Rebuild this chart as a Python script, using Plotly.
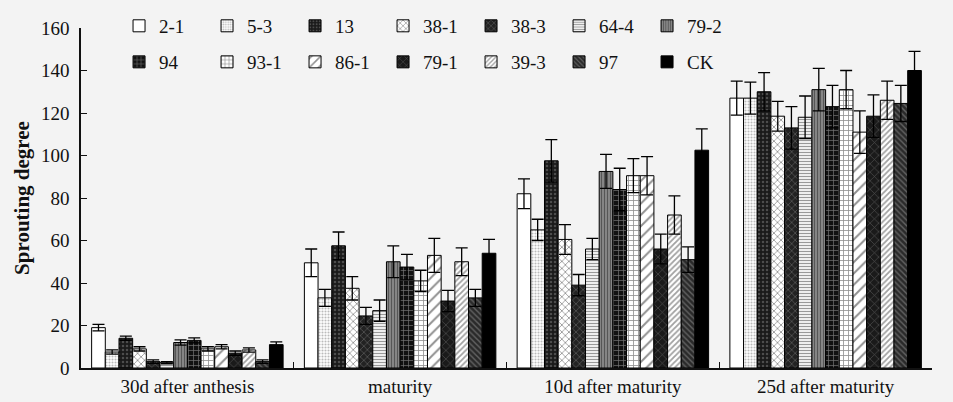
import plotly.graph_objects as go

categories = ["30d after anthesis", "maturity", "10d after maturity", "25d after maturity"]
series_names = ["2-1", "5-3", "13", "38-1", "38-3", "64-4", "79-2",
                "94", "93-1", "86-1", "79-1", "39-3", "97", "CK"]

v_2_1 = [19, 49.5, 82, 127]
v_5_3 = [7.5, 33, 65, 127]
v_13 = [14, 57.5, 97.5, 130]
v_38_1 = [9, 37.5, 60.5, 118.5]
v_38_3 = [3, 24.5, 39, 113]
v_64_4 = [2.5, 27, 56, 118]
v_79_2 = [12, 50, 92.5, 131]
v_94 = [13, 47.5, 84, 123]
v_93_1 = [9, 41, 90.5, 131]
v_86_1 = [10, 53, 90.5, 111]
v_79_1 = [7, 31.5, 56, 118.5]
v_39_3 = [8.5, 50, 72, 126]
v_97 = [3, 33, 51, 124.5]
v_CK = [11, 54, 102.5, 140]

e_2_1 = [1.5, 6.5, 7, 8]
e_5_3 = [1, 4, 5, 7.5]
e_13 = [1, 6.5, 10, 9]
e_38_1 = [1, 5.5, 7, 7]
e_38_3 = [0.8, 4, 5, 10]
e_64_4 = [0.5, 5, 5, 10]
e_79_2 = [1.2, 7.5, 8, 10]
e_94 = [1.2, 6, 10, 10]
e_93_1 = [1, 5, 8, 9]
e_86_1 = [1, 8, 9, 10]
e_79_1 = [1, 5, 7, 10]
e_39_3 = [1, 6.5, 9, 9]
e_97 = [0.8, 4, 6, 8.5]
e_CK = [1.3, 6.5, 10, 9]

values = [v_2_1, v_5_3, v_13, v_38_1, v_38_3, v_64_4, v_79_2,
          v_94, v_93_1, v_86_1, v_79_1, v_39_3, v_97, v_CK]
errors = [e_2_1, e_5_3, e_13, e_38_1, e_38_3, e_64_4, e_79_2,
          e_94, e_93_1, e_86_1, e_79_1, e_39_3, e_97, e_CK]

# styles: (background, pattern shape, pattern colour, pattern size, solidity)
styles = [
    ("#ffffff", "", "#000000", 6, 0.3),
    ("#ffffff", ".", "#777777", 3, 0.4),
    ("#1a1a1a", ".", "#808080", 4, 0.3),
    ("#ffffff", "x", "#222222", 5, 0.3),
    ("#222222", "x", "#999999", 5, 0.25),
    ("#ffffff", "-", "#333333", 3, 0.45),
    ("#8a8a8a", "|", "#222222", 3, 0.4),
    ("#111111", "+", "#dddddd", 5, 0.25),
    ("#ffffff", "+", "#222222", 5, 0.3),
    ("#ffffff", "/", "#222222", 8, 0.25),
    ("#1a1a1a", "x", "#888888", 6, 0.2),
    ("#ffffff", "/", "#444444", 4, 0.45),
    ("#2a2a2a", "\\", "#9a9a9a", 4, 0.35),
    ("#000000", "", "#000000", 6, 0.3),
]

FONT = "Liberation Serif"

fig = go.Figure()
for i, (name, vals, errs, st) in enumerate(zip(series_names, values, errors, styles)):
    bg, shape, fg, size, sol = st
    fig.add_trace(go.Bar(
        name=name,
        x=categories,
        y=vals,
        error_y=dict(type="data", array=errs, visible=True, color="#000000",
                     thickness=1.3, width=6),
        marker=dict(
            color=bg,
            line=dict(color="#000000", width=1),
            pattern=dict(shape=shape, fgcolor=fg, size=size, solidity=sol,
                         fillmode="overlay"),
        ),
        legend="legend" if i < 7 else "legend2",
    ))

legend_common = dict(
    orientation="h",
    xanchor="left",
    yanchor="middle",
    x=0.0447,
    font=dict(family=FONT, size=19, color="#111111"),
    bgcolor="rgba(0,0,0,0)",
    entrywidth=43,
    entrywidthmode="pixels",
    tracegroupgap=0,
    itemclick=False,
)

fig.update_layout(
    width=953,
    height=402,
    margin=dict(l=81, r=21, t=28, b=34, autoexpand=False),
    paper_bgcolor="#f3f3f3",
    plot_bgcolor="#f3f3f3",
    barmode="group",
    bargap=0.1,
    bargroupgap=0,
    font=dict(family=FONT, size=19, color="#111111"),
    legend=dict(y=1.006, **legend_common),
    legend2=dict(y=0.9, **legend_common),
    xaxis=dict(
        range=[-0.5, 3.5],
        showline=True, linecolor="#111111", linewidth=1.5,
        ticks="inside", ticklen=6, tickcolor="#111111", tickwidth=1.2,
        tickson="boundaries",
        showgrid=False,
        tickfont=dict(family=FONT, size=19, color="#111111"),
    ),
    yaxis=dict(
        range=[0, 160],
        tickvals=[0, 20, 40, 60, 80, 100, 120, 140, 160],
        showline=True, linecolor="#111111", linewidth=1.5,
        ticks="inside", ticklen=6, tickcolor="#111111", tickwidth=1.2,
        showgrid=False, zeroline=False,
        tickfont=dict(family=FONT, size=19, color="#111111"),
        ticklabelstandoff=6,
        title=dict(text="<b>Sprouting degree</b>",
                   font=dict(family=FONT, size=21, color="#111111"),
                   standoff=6),
    ),
)

fig.write_html(
    "out.html",
    config={"displayModeBar": False},
    post_script="document.body.style.margin='0px';document.body.style.overflow='hidden';",
)
